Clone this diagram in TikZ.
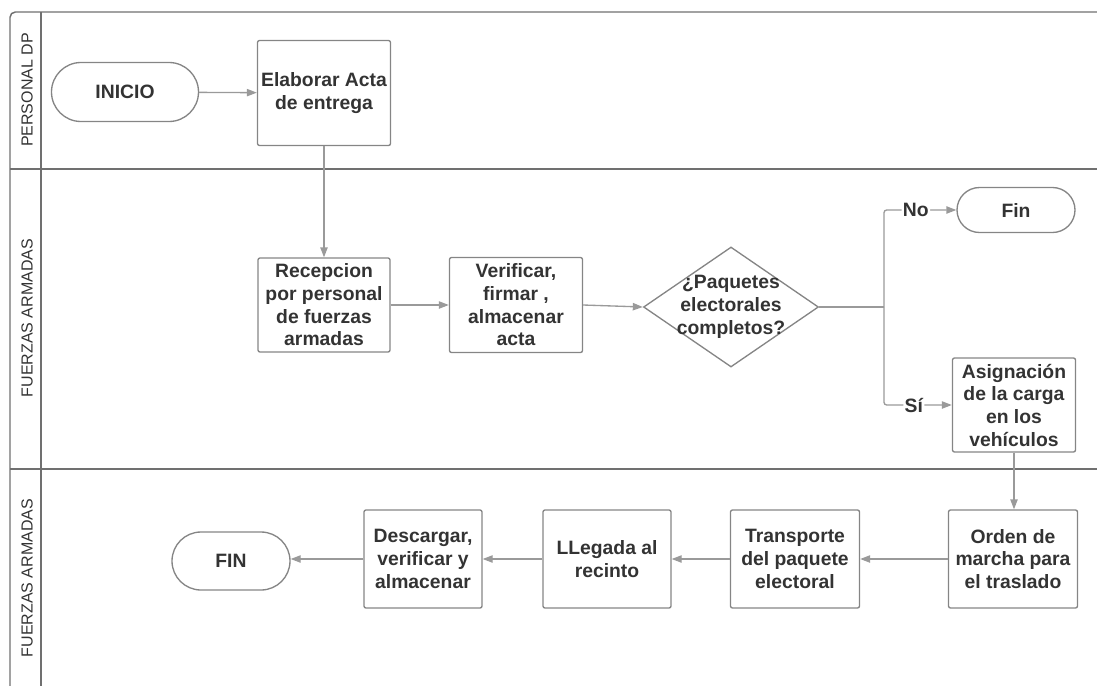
\documentclass[tikz,border=0pt]{standalone}
\usepackage{fontspec}
\setmainfont{Liberation Sans}
\usetikzlibrary{arrows.meta,shapes.geometric,shapes.misc}
\definecolor{txtgray}{HTML}{333333}
\definecolor{boxgray}{HTML}{858585}
\definecolor{linegray}{HTML}{9A9A9A}
\definecolor{lanegray}{HTML}{707070}
\begin{document}
\begin{tikzpicture}[x=0.75pt,y=-0.75pt,
	txt/.style = {text = txtgray, font = \fontsize{14.5}{17}\selectfont\bfseries, align = center},
	proc/.style = {txt, draw = boxgray, line width = 1pt, rounded corners = 1.5pt, inner sep = 0pt},
	term/.style = {txt, draw = boxgray, line width = 1pt, rounded rectangle, inner sep = 0pt},
	decision/.style = {draw = boxgray, line width = 1pt, diamond, inner sep = 0pt},
	flow/.style = {draw = linegray, line width = 1pt, -{Triangle[length = 7.5pt, width = 5.5pt]}},
	lanetxt/.style = {text = txtgray, font = \fontsize{12}{14}\selectfont, rotate = 90},
	lbl/.style = {txt, fill = white, inner sep = 1pt}]
	\useasboundingbox (0,0) rectangle (1097,686);
	\draw [lanegray, line width = 1.1pt, rounded corners = 4pt] (1097,12) -- (10,12) -- (10,686);
	\draw [lanegray, line width = 1.1pt] (41,12) -- (41,686);
	\draw [lanegray, line width = 1.1pt] (10,169) -- (1097,169);
	\draw [lanegray, line width = 1.1pt] (10,469) -- (1097,469);
	\node [lanetxt] (laneA) at (27,90) {PERSONAL DP};
	\node [lanetxt] (laneB) at (27,318) {FUERZAS ARMADAS};
	\node [lanetxt] (laneC) at (27,578) {FUERZAS ARMADAS};
	\node [term, minimum width = 110.25pt, minimum height = 44.25pt] (inicio) at (125,92) {INICIO};
	\node [proc, minimum width = 99.75pt, minimum height = 78.75pt] (acta) at (324,93) {Elaborar Acta\\de entrega};
	\node [proc, minimum width = 99pt, minimum height = 70.5pt] (recep) at (324,305) {Recepcion\\por personal\\de fuerzas\\armadas};
	\node [proc, minimum width = 99.75pt, minimum height = 71.25pt] (verif) at (516,305) {Verificar,\\firmar ,\\almacenar\\acta};
	\node [decision, minimum width = 131.25pt, minimum height = 90pt, label = {[txt]center:¿Paquetes\\electorales\\completos?}] (paq) at (731,307) {};
	\node [term, minimum width = 88.5pt, minimum height = 33.75pt] (fin) at (1016,210) {Fin};
	\node [proc, minimum width = 92.25pt, minimum height = 70.5pt] (asig) at (1014,405) {Asignación\\de la carga\\en los\\vehículos};
	\node [proc, minimum width = 96.75pt, minimum height = 73.5pt] (orden) at (1013,559) {Orden de\\marcha para\\el traslado};
	\node [proc, minimum width = 96.75pt, minimum height = 73.5pt] (transp) at (795,559) {Transporte\\del paquete\\electoral};
	\node [proc, minimum width = 96pt, minimum height = 73.5pt] (lleg) at (607,559) {LLegada al\\recinto};
	\node [proc, minimum width = 88.5pt, minimum height = 73.5pt] (desc) at (423,559) {Descargar,\\verificar y\\almacenar};
	\node [term, minimum width = 88.5pt, minimum height = 43.5pt] (finB) at (231,561) {FIN};
	\coordinate (split) at (884,307);
	\draw [flow] (inicio) -- (acta);
	\draw [flow] (acta) -- (recep);
	\draw [flow] (recep) -- (verif);
	\draw [flow] (verif.east) -- (paq.west);
	\draw [draw = linegray, line width = 1pt] (paq.east) -- (split);
	\draw [flow, rounded corners = 2pt] (split) |- node [lbl, pos = 0.72] {No} (fin.west);
	\draw [flow, rounded corners = 2pt] (split) |- node [lbl, pos = 0.72] {Sí} (asig.west);
	\draw [flow] (asig.south) -- (asig.south |- orden.north);
	\draw [flow] (orden) -- (transp);
	\draw [flow] (transp) -- (lleg);
	\draw [flow] (lleg) -- (desc);
	\draw [flow] (desc.west) -- (desc.west -| finB.east);
\end{tikzpicture}
\end{document}
